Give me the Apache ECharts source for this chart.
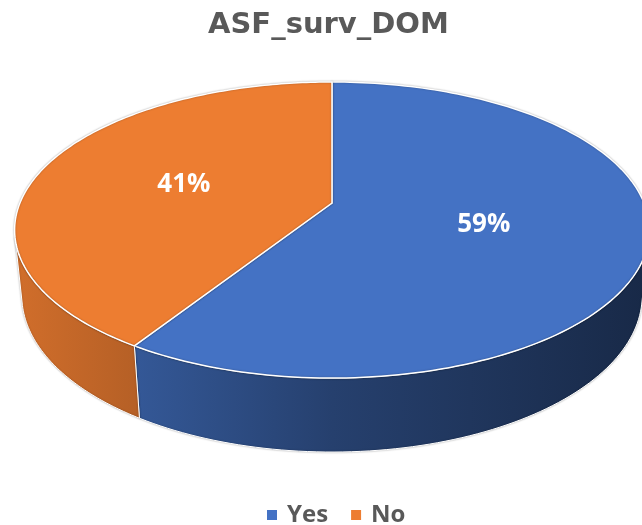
<!DOCTYPE html>
<html>
<head>
<meta charset="utf-8">
<script src="https://cdn.jsdelivr.net/npm/echarts@6/dist/echarts.min.js"></script>
<style>
html,body{margin:0;padding:0;background:#fff;}
#chart{width:642px;height:525px;}
</style>
</head>
<body>
<div id="chart"></div>
<script>
// ---- data ----
const chartTitle = 'ASF_surv_DOM';
const categories = ['Yes', 'No'];
const values = [59, 41];
const colors = ['#4472C4', '#ED7D31'];

// ---- 3D projection (perspective of a tilted disc) ----
const CX = 332, CY = 203;
const F = 1520, R = 0.2053, H = 0.0489;
const SIN_A = 0.4587, COS_A = 0.8886;
function project(thetaDeg, Y, frac) {
  const t = thetaDeg * Math.PI / 180;
  const r = R * (frac === undefined ? 1 : frac);
  const X = r * Math.sin(t), Z = r * Math.cos(t);
  const yc = Y * COS_A + Z * SIN_A;
  const d = 1 + Z * COS_A - Y * SIN_A;
  return [CX + F * X / d, CY - F * yc / d];
}
// visible range of the outer wall
const visLimit = Math.acos(-R / COS_A) * 180 / Math.PI; // ~103.4
const VIS0 = visLimit, VIS1 = 360 - visLimit;

const total = values.reduce((a, b) => a + b, 0);
const starts = [];
{ let acc = 0; values.forEach(v => { starts.push(acc / total * 360); acc += v; }); }

function shade(hex, k) {
  const n = parseInt(hex.slice(1), 16);
  const r = Math.round(((n >> 16) & 255) * k), g = Math.round(((n >> 8) & 255) * k), b = Math.round((n & 255) * k);
  return 'rgb(' + r + ',' + g + ',' + b + ')';
}

function arc(a0, a1, Y, steps) {
  const pts = [];
  for (let i = 0; i <= steps; i++) pts.push(project(a0 + (a1 - a0) * i / steps, Y));
  return pts;
}

function makeRender(idx) {
  return function (params, api) {
    const v = api.value(0);
    const a0 = starts[idx];
    const a1 = a0 + v / total * 360;
    const base = colors[idx];
    const children = [];
    // side wall
    const s0 = Math.max(a0, VIS0), s1 = Math.min(a1, VIS1);
    if (s1 > s0) {
      const top = arc(s0, s1, 0, 80);
      const bot = arc(s0, s1, -H, 80).reverse();
      children.push({
        type: 'polygon',
        shape: { points: top.concat(bot) },
        style: {
          fill: new echarts.graphic.LinearGradient(14, 0, 650, 0, [
            { offset: 0, color: shade(base, 0.88) },
            { offset: 0.19, color: shade(base, 0.77) },
            { offset: 0.5, color: shade(base, 0.56) },
            { offset: 1, color: shade(base, 0.36) }
          ], true),
          stroke: '#ffffff', lineWidth: 1,
          shadowBlur: 2, shadowColor: 'rgba(0,0,0,0.3)'
        }
      });
    }
    // top face
    const pts = [project(0, 0, 0)].concat(arc(a0, a1, 0, 160));
    children.push({
      type: 'polygon',
      shape: { points: pts },
      style: { fill: base, stroke: '#ffffff', lineWidth: 1.5, shadowBlur: 2, shadowColor: 'rgba(0,0,0,0.3)' }
    });
    // label
    const lp = project((a0 + a1) / 2, 0, 0.5);
    children.push({
      type: 'text',
      style: {
        text: Math.round(v / total * 100) + '%',
        x: lp[0] - 2, y: lp[1] + 1, align: 'center', verticalAlign: 'middle',
        fill: '#ffffff', font: 'bold 26px "Open Sans"'
      }
    });
    return { type: 'group', children: children };
  };
}

const chart = echarts.init(document.getElementById('chart'), null, { renderer: 'canvas' });
chart.setOption({
  animation: false,
  color: colors,
  title: {
    text: chartTitle, left: 203, top: 6,
    textStyle: { fontFamily: 'DejaVu Sans', fontSize: 29, fontWeight: 'bold', color: '#595959' }
  },
  legend: {
    data: categories, top: 498, left: 262,
    icon: 'rect', itemWidth: 10, itemHeight: 10, itemGap: 23,
    textStyle: { fontFamily: 'Open Sans', fontSize: 24, fontWeight: 'bold', color: '#595959', padding: [0, 0, 0, 5] }
  },
  series: categories.map((name, i) => ({
    type: 'custom', name: name, coordinateSystem: 'none',
    data: [[values[i]]],
    renderItem: makeRender(i)
  }))
});
</script>
</body>
</html>
